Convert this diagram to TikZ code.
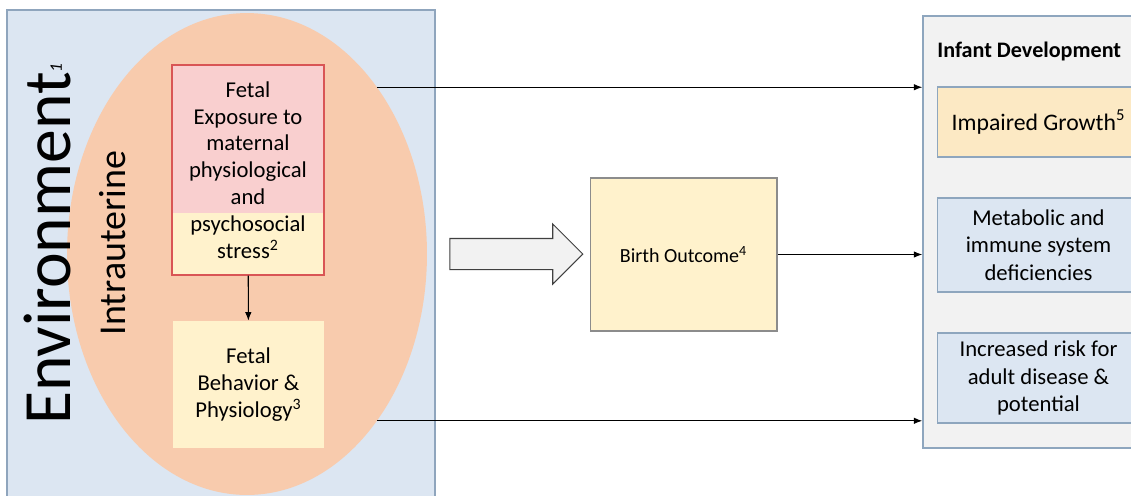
\documentclass[tikz,border=0pt]{standalone}
\usepackage{fontspec}
\setmainfont{Carlito}
\usetikzlibrary{arrows.meta, positioning, shapes.geometric, shapes.arrows}

\definecolor{envfill}{HTML}{DCE6F2}
\definecolor{envline}{HTML}{8FA5BD}
\definecolor{uterusfill}{HTML}{F8CBAD}
\definecolor{pinkfill}{HTML}{F9CFCF}
\definecolor{redline}{HTML}{D95555}
\definecolor{yellowfill}{HTML}{FFF2CC}
\definecolor{growthfill}{HTML}{FCE9C4}
\definecolor{bluefill}{HTML}{DCE6F2}
\definecolor{panelfill}{HTML}{F2F2F2}
\definecolor{birthline}{HTML}{8C8C8C}
\definecolor{devline}{HTML}{8EA6BE}

\begin{document}
\begin{tikzpicture}[x=0.02cm, y=-0.02cm, font=\fontsize{12.9}{15.3}\selectfont,
  outcome/.style={draw=devline, line width=0.6pt, align=center, inner sep=0pt, minimum width=4.06cm},
  link/.style={-{Latex[length=1.7mm,width=1.3mm]}, line width=0.6pt}]
  \useasboundingbox (0,0) rectangle (1131,495);

  % left side: environment and womb
  \node[draw=envline, line width=0.8pt, fill=envfill, minimum width=8.56cm, minimum height=9.9cm, inner sep=0pt] (env) at (221,257.5) {};
  \node[ellipse, fill=uterusfill, minimum width=7.2cm, minimum height=9.64cm, inner sep=0pt] (uterus) at (247,254) {};
  \node[rotate=90, font=\fontsize{38.5}{40}\selectfont] (envlabel) at (47,244) {Environment\raisebox{0.12em}{\fontsize{10}{10}\selectfont\itshape 1}};
  \node[rotate=90, font=\fontsize{21.6}{24}\selectfont] (intralabel) at (113,243) {Intrauterine};

  \node[draw=redline, line width=0.8pt, fill=pinkfill, minimum width=3.04cm, minimum height=4.2cm, align=center, inner sep=0pt,
        path picture={\fill[yellowfill] (path picture bounding box.south west) rectangle ([yshift=1.24cm]path picture bounding box.south east);}]
        (stress) at (248,170) {Fetal\\Exposure to\\maternal\\physiological\\and\\psychosocial\\stress\textsuperscript{2}};
  \node[fill=yellowfill, minimum width=3.02cm, minimum height=2.54cm, align=center, inner sep=0pt] (behave) at (248.5,384.5) {Fetal\\Behavior \&\\Physiology\textsuperscript{3}};
  \draw[link] (stress) -- (behave);

  % middle
  \node[single arrow, draw=black!75, fill=panelfill, line width=0.6pt, minimum width=1.18cm, minimum height=2.66cm,
        inner xsep=0pt, inner ysep=0.3cm, single arrow head extend=0.29cm] (flow) at (508.5,254) {};
  \node[draw=birthline, line width=0.6pt, fill=yellowfill, minimum width=3.74cm, minimum height=3.06cm, font=\fontsize{11.4}{14}\selectfont] (birth) at (683.5,254.5) {Birth Outcome\textsuperscript{4}};

  % right side: infant development
  \node[draw=devline, line width=0.8pt, fill=panelfill, minimum width=4.44cm, minimum height=8.64cm, inner sep=0pt] (devel) at (1034,232) {};
  \node[anchor=west, inner sep=0pt, font=\fontsize{12.6}{15}\selectfont\bfseries] (devtitle) at (937,51) {Infant Development};
  \node[outcome, fill=growthfill, minimum height=1.4cm, font=\fontsize{13.5}{15.6}\selectfont] (growth) at (1038.5,122) {Impaired Growth\textsuperscript{5}};
  \node[outcome, fill=bluefill, minimum height=1.88cm, font=\fontsize{12.9}{15.6}\selectfont] (metab) at (1038.5,245) {Metabolic and\\immune system\\deficiencies};
  \node[outcome, fill=bluefill, minimum height=1.8cm, font=\fontsize{12.9}{15.6}\selectfont] (risk) at (1038.5,378) {Increased risk for\\adult disease \&\\potential};

  \draw[link] (uterus.52.9) -- (uterus.52.9 -| devel.west);
  \draw[link] (birth.east) -- (birth.east -| devel.west);
  \draw[link] (uterus.-52.9) -- (uterus.-52.9 -| devel.west);
\end{tikzpicture}
\end{document}
